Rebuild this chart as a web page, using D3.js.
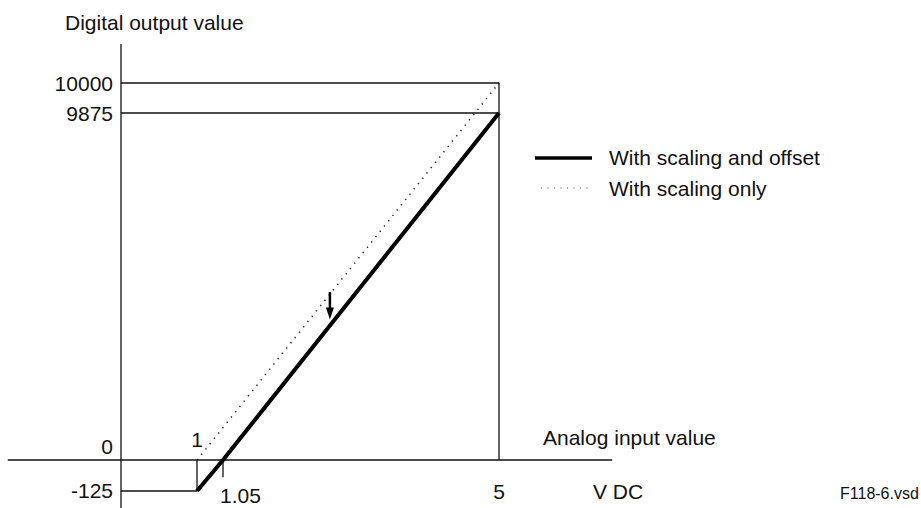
<!DOCTYPE html>
<html>
<head>
<meta charset="utf-8">
<script src="https://cdn.jsdelivr.net/npm/d3@7"></script>
<style>
  html, body { margin: 0; padding: 0; background: #fff; }
  svg text { font-family: Arial, "Liberation Sans", sans-serif; fill: #111; }
</style>
</head>
<body>
<svg id="chart" width="921" height="508"></svg>
<script>
// ---- data ----
const xBreaks = [0, 1, 1.05, 5];                 // analog input (V DC), schematic breaks
const yBreaks = [-125, 0, 9875, 10000];           // digital output, schematic breaks
const seriesOffset = [[1, -125], [1.05, 0], [5, 9875]];   // With scaling and offset
const seriesScaling = [[1, 0], [5, 10000]];               // With scaling only
const xTickLabels = ["1", "1.05", "5"];
const yTickLabels = ["10000", "9875", "0", "-125"];
const legendLabels = ["With scaling and offset", "With scaling only"];
const arrowX = 2.58, arrowFrom = 4780, arrowTo = 4000;
const xAxisExtent = [-1.49, 6.62];
const yAxisExtent = [-300, 10162];

// ---- scales (schematic, piecewise) ----
const x = d3.scaleLinear().domain(xBreaks).range([121, 197, 223, 499]);
const y = d3.scaleLinear().domain(yBreaks).range([491, 460, 113, 83]);

const svg = d3.select("#chart");
const ink = "#111";

// axes
svg.append("line").attr("x1", x(xAxisExtent[0])).attr("x2", x(xAxisExtent[1]))
  .attr("y1", y(0)).attr("y2", y(0)).attr("stroke", ink).attr("stroke-width", 1.3);
svg.append("line").attr("x1", x(0)).attr("x2", x(0))
  .attr("y1", y(yAxisExtent[1])).attr("y2", 508).attr("stroke", ink).attr("stroke-width", 1.3);

// reference lines
const ref = svg.append("g").attr("stroke", ink).attr("stroke-width", 1.3).attr("fill", "none");
ref.append("line").attr("x1", x(0)).attr("x2", x(5)).attr("y1", y(10000)).attr("y2", y(10000));
ref.append("line").attr("x1", x(0)).attr("x2", x(5)).attr("y1", y(9875)).attr("y2", y(9875));
ref.append("line").attr("x1", x(5)).attr("x2", x(5)).attr("y1", y(10000)).attr("y2", y(0));
ref.append("line").attr("x1", x(0)).attr("x2", x(1)).attr("y1", y(-125)).attr("y2", y(-125));
ref.append("line").attr("x1", x(1)).attr("x2", x(1)).attr("y1", y(0)).attr("y2", y(-125));
ref.append("line").attr("x1", x(1.05)).attr("x2", x(1.05)).attr("y1", y(0)).attr("y2", y(-70));

const line = d3.line().x(d => x(d[0])).y(d => y(d[1]));

// with scaling only (dotted)
svg.append("path").datum(seriesScaling).attr("d", line)
  .attr("fill", "none").attr("stroke", "#222").attr("stroke-width", 1.5)
  .attr("stroke-dasharray", "1.3,5.5");

// with scaling and offset (thick)
svg.append("path").datum(seriesOffset).attr("d", line)
  .attr("fill", "none").attr("stroke", "#000").attr("stroke-width", 4);

// arrow
const ax = x(arrowX), ayTip = y(arrowTo);
svg.append("line").attr("x1", ax).attr("x2", ax)
  .attr("y1", y(arrowFrom)).attr("y2", ayTip - 10)
  .attr("stroke", "#000").attr("stroke-width", 2.5);
svg.append("path")
  .attr("d", d3.line()([[ax - 4, ayTip - 12], [ax + 4, ayTip - 12], [ax, ayTip]]) + "Z")
  .attr("fill", "#000");

// tick labels - y
const fs = 21;
const yLabelPos = [
  { t: yTickLabels[0], v: 10000, dy: 8 },
  { t: yTickLabels[1], v: 9875, dy: 8 },
  { t: yTickLabels[2], v: 0, dy: -6 },
  { t: yTickLabels[3], v: -125, dy: 7 }
];
svg.selectAll(".ylab").data(yLabelPos).join("text")
  .attr("x", x(0) - 8).attr("y", d => y(d.v) + d.dy)
  .attr("text-anchor", "end").attr("font-size", fs).text(d => d.t);

// tick labels - x
svg.append("text").attr("x", x(1)).attr("y", y(0) - 13).attr("text-anchor", "middle")
  .attr("font-size", fs).text(xTickLabels[0]);
svg.append("text").attr("x", x(1.05) - 3).attr("y", 503).attr("text-anchor", "start")
  .attr("font-size", fs).text(xTickLabels[1]);
svg.append("text").attr("x", x(5)).attr("y", 499).attr("text-anchor", "middle")
  .attr("font-size", fs).text(xTickLabels[2]);

// axis titles
svg.append("text").attr("x", 65).attr("y", 30).attr("font-size", fs).text("Digital output value");
svg.append("text").attr("x", 543).attr("y", 445).attr("font-size", fs).text("Analog input value");
svg.append("text").attr("x", 593).attr("y", 499).attr("font-size", fs).text("V DC");
svg.append("text").attr("x", 840).attr("y", 499).attr("font-size", 16).text("F118-6.vsd");

// legend
const lg = svg.append("g");
lg.append("line").attr("x1", 535).attr("x2", 592).attr("y1", 158).attr("y2", 158)
  .attr("stroke", "#000").attr("stroke-width", 3.5);
lg.append("line").attr("x1", 541).attr("x2", 592).attr("y1", 188).attr("y2", 188)
  .attr("stroke", "#444").attr("stroke-width", 1).attr("stroke-dasharray", "1,5.5");
lg.selectAll(".lt").data(legendLabels).join("text")
  .attr("x", 609).attr("y", (d, i) => 165 + i * 31).attr("font-size", fs).text(d => d);
</script>
</body>
</html>
